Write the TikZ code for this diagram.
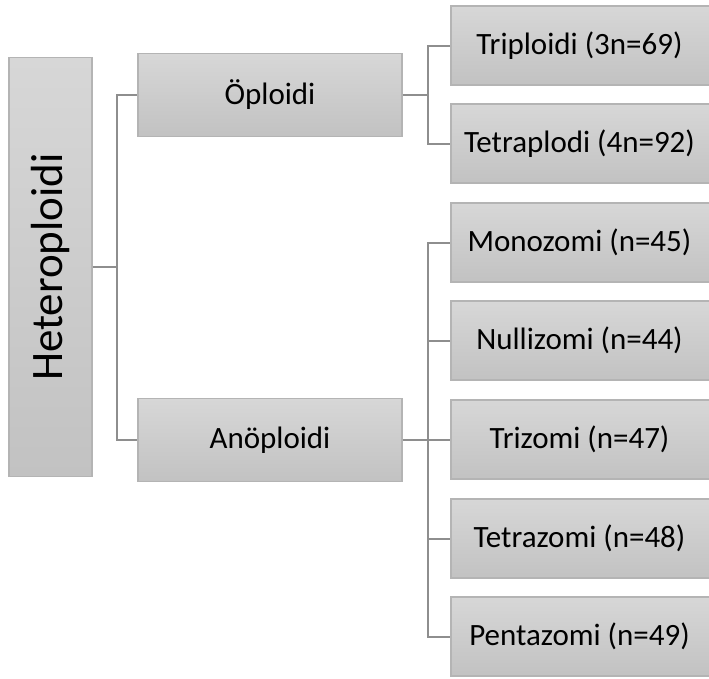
\documentclass[tikz,border=0pt]{standalone}
\usepackage{fontspec}
\setmainfont{Carlito}
\usetikzlibrary{calc}
\definecolor{boxtop}{HTML}{D7D7D7}
\definecolor{boxbot}{HTML}{C2C2C2}
\definecolor{boxline}{HTML}{B4B4B4}
\definecolor{conn}{HTML}{8E8E8E}
\tikzset{
  box/.style={draw=boxline, line width=1.2pt, top color=boxtop, bottom color=boxbot,
    inner sep=0pt, anchor=center, font=\fontsize{31}{37}\selectfont},
  kid/.style={box, minimum width=263pt, minimum height=79pt},
  mid/.style={box, minimum width=264pt, minimum height=83pt},
  link/.style={draw=conn, line width=2pt}
}
\begin{document}
\begin{tikzpicture}[x=1pt,y=1pt]
\useasboundingbox (0,0) rectangle (709,-678);
\node[box, minimum width=83pt, minimum height=419pt, font=\fontsize{45}{54}\selectfont] (het) at (50.5,-267) {\rotatebox{90}{Heteroploidi}};
\node[mid] (op) at (270,-95) {Öploidi};
\node[mid] (an) at (270,-440) {Anöploidi};
\node[kid] (tri) at (582.5,-45.5) {\hspace*{-6pt}Triploidi (3n=69)};
\node[kid] (tet) at (582.5,-143.5) {\hspace*{-6pt}Tetraplodi (4n=92)};
\node[kid] (mon) at (582.5,-242.5) {\hspace*{-6pt}Monozomi (n=45)};
\node[kid] (nul) at (582.5,-340.5) {\hspace*{-6pt}Nullizomi (n=44)};
\node[kid] (trz) at (582.5,-439.5) {\hspace*{-6pt}Trizomi (n=47)};
\node[kid] (ttz) at (582.5,-538.5) {\hspace*{-6pt}Tetrazomi (n=48)};
\node[kid] (pen) at (582.5,-636.5) {\hspace*{-6pt}Pentazomi (n=49)};
\coordinate (j1) at (117,-267);
\coordinate (j2) at (428,-95);
\coordinate (j3) at (428,-440);
\draw[link] (het.east) -- (j1);
\draw[link] (j1) |- (op.west);
\draw[link] (j1) |- (an.west);
\draw[link] (op.east) -- (j2);
\draw[link] (j2) |- (tri.west);
\draw[link] (j2) |- (tet.west);
\draw[link] (an.east) -- (j3);
\draw[link] (j3) |- (mon.west);
\draw[link] (j3) |- (nul.west);
\draw[link] (j3) |- (trz.west);
\draw[link] (j3) |- (ttz.west);
\draw[link] (j3) |- (pen.west);
\end{tikzpicture}
\end{document}
